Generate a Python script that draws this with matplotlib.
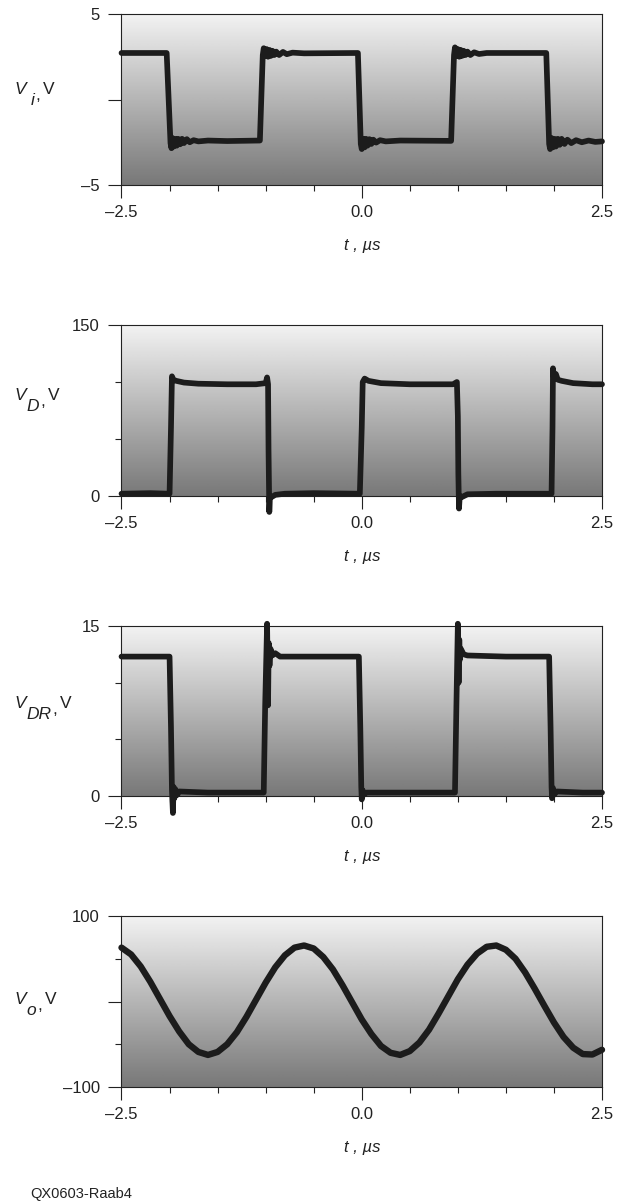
import matplotlib
matplotlib.use("Agg")
import matplotlib.pyplot as plt
import numpy as np

plt.rcParams['font.family'] = ['Liberation Sans', 'DejaVu Sans']

# ---- data (time in us) ----
vi_t = [-2.50, -2.03, -1.99, -1.98, -1.97, -1.955, -1.94, -1.925, -1.91, -1.89, -1.87, -1.85,
        -1.82, -1.79, -1.75, -1.70, -1.60, -1.40, -1.06,
        -1.03, -1.02, -1.005, -0.99, -0.975, -0.96, -0.945, -0.93, -0.91, -0.89, -0.86,
        -0.82, -0.78, -0.72, -0.60, -0.04,
        -0.01, 0.00, 0.015, 0.03, 0.045, 0.06, 0.08, 0.10, 0.12, 0.15, 0.19, 0.25, 0.40, 0.93,
        0.96, 0.97, 0.985, 1.00, 1.015, 1.03, 1.045, 1.06, 1.08, 1.10, 1.13, 1.17, 1.22, 1.30, 1.92,
        1.95, 1.96, 1.975, 1.99, 2.005, 2.02, 2.04, 2.06, 2.08, 2.11, 2.14, 2.18, 2.23, 2.29,
        2.36, 2.43, 2.50]
vi_v = [2.72, 2.72, -2.55, -2.85, -2.25, -2.75, -2.30, -2.70, -2.30, -2.62, -2.30, -2.55,
        -2.32, -2.50, -2.38, -2.45, -2.40, -2.43, -2.40,
        2.60, 3.00, 2.55, 2.95, 2.50, 2.90, 2.55, 2.85, 2.60, 2.80, 2.60,
        2.78, 2.65, 2.74, 2.70, 2.72,
        -2.60, -2.90, -2.30, -2.80, -2.30, -2.70, -2.32, -2.60, -2.35, -2.52, -2.38, -2.45, -2.40, -2.42,
        2.60, 3.05, 2.55, 2.95, 2.50, 2.90, 2.55, 2.85, 2.60, 2.80, 2.60, 2.76, 2.66, 2.72, 2.72,
        -2.60, -2.90, -2.25, -2.80, -2.30, -2.75, -2.30, -2.65, -2.30, -2.60, -2.35, -2.55, -2.38, -2.50,
        -2.40, -2.48, -2.45]

vd_t = [-2.50, -2.20, -2.00, -1.985, -1.975, -1.96, -1.93, -1.85, -1.70, -1.40, -1.10,
        -1.00, -0.985, -0.975, -0.97, -0.962, -0.955, -0.94, -0.90, -0.80, -0.50, -0.02,
        0.00, 0.01, 0.03, 0.07, 0.20, 0.50, 0.95, 0.99, 1.00, 1.005, 1.012, 1.02, 1.04,
        1.10, 1.40, 1.975, 1.985, 1.99, 2.00, 2.02, 2.04, 2.08, 2.20, 2.40, 2.50]
vd_v = [2.0, 2.5, 2.0, 60.0, 105.0, 102.0, 101.0, 99.5, 98.5, 98.0, 98.0,
        99.0, 104.0, 98.0, 40.0, -14.0, 0.0, -1.0, 1.0, 2.0, 2.5, 2.0,
        60.0, 100.0, 103.0, 101.0, 99.0, 98.0, 98.0, 100.0, 70.0, 20.0, -11.0, 0.0, -1.0,
        1.5, 2.0, 2.0, 60.0, 112.0, 103.0, 107.0, 102.0, 101.0, 99.0, 98.0, 98.0]

vdr_t = [-2.50, -2.00, -1.985, -1.975, -1.965, -1.958, -1.95, -1.94, -1.92, -1.90, -1.60, -1.30,
         -1.02, -1.005, -0.985, -0.975, -0.968, -0.96, -0.95, -0.93, -0.90, -0.85, -0.50, -0.03,
         -0.015, -0.005, 0.00, 0.01, 0.02, 0.05, 0.40, 0.97, 0.985, 1.00, 1.008, 1.015, 1.02,
         1.03, 1.06, 1.10, 1.50, 1.95, 1.965, 1.975, 1.98, 1.99, 2.00, 2.03, 2.30, 2.50]
vdr_v = [12.3, 12.3, 6.0, 0.5, -1.5, 0.8, -0.2, 0.6, 0.1, 0.4, 0.3, 0.3,
         0.3, 8.0, 15.2, 8.0, 13.5, 11.5, 13.0, 12.4, 12.6, 12.3, 12.3, 12.3,
         6.0, 0.8, -0.3, 0.5, 0.1, 0.3, 0.3, 0.3, 8.0, 15.2, 10.0, 13.8, 12.0,
         13.0, 12.5, 12.4, 12.3, 12.3, 6.0, 0.8, -0.2, 0.7, 0.1, 0.4, 0.3, 0.3]

vo_t = [-2.5, -2.4, -2.3, -2.2, -2.1, -2.0, -1.9, -1.8, -1.7, -1.6, -1.5, -1.4, -1.3, -1.2,
        -1.1, -1.0, -0.9, -0.8, -0.7, -0.6, -0.5, -0.4, -0.3, -0.2, -0.1, 0.0, 0.1, 0.2,
        0.3, 0.4, 0.5, 0.6, 0.7, 0.8, 0.9, 1.0, 1.1, 1.2, 1.3, 1.4, 1.5, 1.6, 1.7, 1.8,
        1.9, 2.0, 2.1, 2.2, 2.3, 2.4, 2.5]
vo_v = [63, 55, 41, 23, 3, -17, -35, -50, -59, -62.5, -59, -50, -36, -18,
        2, 22, 40, 54, 63, 65.5, 62, 52, 37.5, 19, -1, -21, -38, -52,
        -60, -62.5, -58, -48, -33, -14, 6, 26, 43, 56, 64, 65.5, 60.5, 50, 34, 15,
        -5, -24.5, -41.5, -54, -61.5, -62, -56.5]

# (t, v, ylim, labelled ticks, tick labels, minor ticks, subscript, line width)
panels = [
    (vi_t, vi_v, (-5, 5), [5, 0, -5], ['5', '', '\u20135'], [], 'i', 4.1),
    (vd_t, vd_v, (0, 150), [150, 0], ['150', '0'], [50, 100], 'D', 4.1),
    (vdr_t, vdr_v, (0, 15), [15, 0], ['15', '0'], [5, 10], 'DR', 4.1),
    (vo_t, vo_v, (-100, 100), [100, 0, -100], ['100', '', '\u2013100'], [50, -50], 'o', 4.6),
]

x_major = [-2.5, 0.0, 2.5]
x_major_labels = ['\u20132.5', '0.0', '2.5']
x_minor = [-2.0, -1.5, -1.0, -0.5, 0.5, 1.0, 1.5, 2.0]

W, H = 619, 1204
fig = plt.figure(figsize=(W / 100, H / 100), dpi=100)
renderer = fig.canvas.get_renderer()
ink = '#222222'

# axes boxes in pixels (top, bottom) and baseline of the y label "V"
boxes = [(14, 185), (325, 496), (626, 796), (916, 1087)]
label_base = [94, 400, 708, 1004]
left_px, right_px = 121.5, 602

grad = np.linspace(0.95, 0.47, 256).reshape(-1, 1)


def ylabel(x_px, base_px, sub, fs=12.5):
    # V (italic), subscript same size dropped down, comma, then unit
    t1 = fig.text(x_px / W, 1 - base_px / H, 'V', style='italic', fontsize=fs,
                  va='baseline', ha='left', color=ink)
    bb = t1.get_window_extent(renderer)
    gap = 4 if sub == 'i' else 0
    t2 = fig.text((bb.x1 + gap) / W, 1 - (base_px + 11) / H, sub, style='italic',
                  fontsize=fs, va='baseline', ha='left', color=ink)
    bb = t2.get_window_extent(renderer)
    t3 = fig.text((bb.x1 + 1) / W, 1 - (base_px + 6) / H, ',', fontsize=fs,
                  va='baseline', ha='left', color=ink)
    bb = t3.get_window_extent(renderer)
    fig.text((bb.x1 + 3) / W, 1 - base_px / H, 'V', fontsize=fs,
             va='baseline', ha='left', color=ink)


for (t, v, ylim, yt, ytl, ymin, sub, lw), (top, bot), lb in zip(panels, boxes, label_base):
    ax = fig.add_axes([left_px / W, 1 - bot / H, (right_px - left_px) / W, (bot - top) / H])
    ax.imshow(grad, cmap='gray', vmin=0, vmax=1, aspect='auto',
              extent=[-2.5, 2.5, ylim[0], ylim[1]], origin='upper', zorder=0,
              interpolation='bilinear')
    ax.plot(t, v, color='#1c1c1c', lw=lw, solid_joinstyle='round',
            solid_capstyle='round', zorder=3, clip_on=False)
    ax.set_xlim(-2.5, 2.5)
    ax.set_ylim(*ylim)

    ax.set_xticks(x_major)
    ax.set_xticklabels(x_major_labels)
    ax.set_xticks(x_minor, minor=True)
    ax.set_yticks(yt)
    ax.set_yticklabels(ytl)
    ax.set_yticks(ymin, minor=True)

    ax.tick_params(axis='both', which='major', direction='out', length=9.5, width=0.8,
                   labelsize=12, colors=ink, pad=6)
    ax.tick_params(axis='both', which='minor', direction='out', length=4.5, width=0.8,
                   colors=ink)
    ax.tick_params(axis='x', which='major', pad=5)
    for sp in ax.spines.values():
        sp.set_linewidth(0.8)
        sp.set_color(ink)

    ax.set_xlabel('t , \u00b5s', fontstyle='italic', fontsize=12, labelpad=13, color=ink)
    ylabel(15, lb, sub)

fig.text(30 / W, 1 - 1198 / H, 'QX0603-Raab4', fontsize=10.5, color=ink,
         ha='left', va='baseline')

fig.savefig('out.png', dpi=100)
